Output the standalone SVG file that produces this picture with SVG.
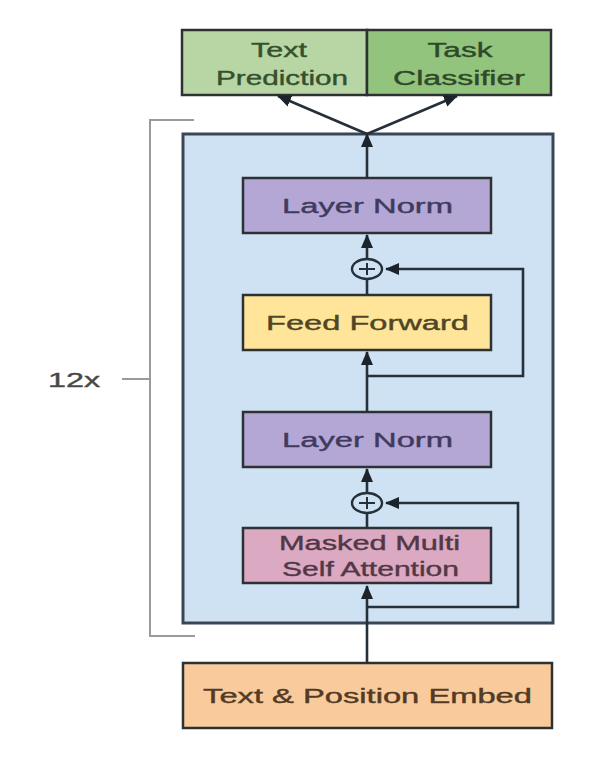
<svg xmlns="http://www.w3.org/2000/svg" width="592" height="766" viewBox="0 0 592 766">
<style>
  .box { stroke: #2e3133; stroke-width: 2.5; }
  .lbl { font-family: "Liberation Sans", Arial, sans-serif; font-size: 21px; text-anchor: middle; stroke-width: 0.4; }
  .con { stroke: #26303a; stroke-width: 2.6; fill: none; }
  .brk { stroke: #9a9a9a; stroke-width: 2; fill: none; }
</style>
<defs>
  <marker id="ah" markerUnits="userSpaceOnUse" markerWidth="14" markerHeight="14" viewBox="0 0 14 12" refX="13" refY="6" orient="auto">
    <path d="M0,0 L14,6 L0,12 Z" fill="#1c232a"/>
  </marker>
</defs>
<rect width="592" height="766" fill="#ffffff"/>

<g id="bracket">
  <polyline class="brk" points="194,120 150,120 150,636 195,636"/>
  <line class="brk" x1="122" y1="379" x2="150" y2="379" stroke="#666"/>
  <text transform="translate(74,387) scale(1.5,1)" class="lbl" fill="#484848" stroke="#484848" textLength="34.7" lengthAdjust="spacingAndGlyphs">12x</text>
</g>

<g id="block">
  <rect x="183" y="134" width="370" height="489" fill="#cfe2f3" stroke="#3a4654" stroke-width="3"/>
</g>

<g id="text-prediction">
  <rect class="box" x="182" y="30" width="185" height="65" fill="#b7d6a4" stroke="#34452c"/>
  <text transform="translate(279,57) scale(1.5,1)" class="lbl" fill="#34502c" stroke="#34502c" textLength="37.3" lengthAdjust="spacingAndGlyphs">Text</text>
  <text transform="translate(282,85) scale(1.5,1)" class="lbl" fill="#34502c" stroke="#34502c" textLength="88" lengthAdjust="spacingAndGlyphs">Prediction</text>
</g>

<g id="task-classifier">
  <rect class="box" x="367" y="30" width="184" height="65" fill="#93c47d" stroke="#2c3e26"/>
  <text transform="translate(460,57) scale(1.5,1)" class="lbl" fill="#2e4a28" stroke="#2e4a28" textLength="43.3" lengthAdjust="spacingAndGlyphs">Task</text>
  <text transform="translate(459,85) scale(1.5,1)" class="lbl" fill="#2e4a28" stroke="#2e4a28" textLength="88" lengthAdjust="spacingAndGlyphs">Classifier</text>
</g>

<g id="layer-norm-1">
  <rect class="box" x="243" y="178" width="248" height="55" fill="#b4a7d6"/>
  <text transform="translate(367.5,213) scale(1.5,1)" class="lbl" fill="#403a5e" stroke="#403a5e" textLength="114" lengthAdjust="spacingAndGlyphs">Layer Norm</text>
</g>

<g id="add-1">
  <ellipse cx="367" cy="269" rx="15" ry="10" fill="#cfe2f3" stroke="#26303a" stroke-width="2.4"/>
  <line x1="359" y1="269" x2="375" y2="269" stroke="#26303a" stroke-width="2"/>
  <line x1="367" y1="263" x2="367" y2="275" stroke="#26303a" stroke-width="2"/>
</g>

<g id="feed-forward">
  <rect class="box" x="243" y="295" width="248" height="55" fill="#ffe599"/>
  <text transform="translate(367.5,330) scale(1.5,1)" class="lbl" fill="#504524" stroke="#504524" textLength="135.3" lengthAdjust="spacingAndGlyphs">Feed Forward</text>
</g>

<g id="layer-norm-2">
  <rect class="box" x="243" y="412" width="248" height="55" fill="#b4a7d6"/>
  <text transform="translate(367.5,447) scale(1.5,1)" class="lbl" fill="#403a5e" stroke="#403a5e" textLength="114" lengthAdjust="spacingAndGlyphs">Layer Norm</text>
</g>

<g id="add-2">
  <ellipse cx="367" cy="503" rx="15" ry="10" fill="#cfe2f3" stroke="#26303a" stroke-width="2.4"/>
  <line x1="359" y1="503" x2="375" y2="503" stroke="#26303a" stroke-width="2"/>
  <line x1="367" y1="497" x2="367" y2="509" stroke="#26303a" stroke-width="2"/>
</g>

<g id="masked-attention">
  <rect class="box" x="243" y="528" width="248" height="55" fill="#dba9c1"/>
  <text transform="translate(369.5,550) scale(1.5,1)" class="lbl" fill="#523846" stroke="#523846" textLength="120.7" lengthAdjust="spacingAndGlyphs">Masked Multi</text>
  <text transform="translate(370.5,576) scale(1.5,1)" class="lbl" fill="#523846" stroke="#523846" textLength="118" lengthAdjust="spacingAndGlyphs">Self Attention</text>
</g>

<g id="embed">
  <rect class="box" x="183" y="663" width="369" height="65" fill="#f9cb9c"/>
  <text transform="translate(367.5,703) scale(1.5,1)" class="lbl" fill="#523a24" stroke="#523a24" textLength="219.3" lengthAdjust="spacingAndGlyphs">Text &amp; Position Embed</text>
</g>

<g id="connectors">
  <line class="con" x1="367" y1="178" x2="367" y2="134" marker-end="url(#ah)"/>
  <line class="con" x1="367" y1="134" x2="278" y2="96" marker-end="url(#ah)"/>
  <line class="con" x1="367" y1="134" x2="457" y2="96" marker-end="url(#ah)"/>
  <line class="con" x1="367" y1="259" x2="367" y2="235" marker-end="url(#ah)"/>
  <line class="con" x1="367" y1="295" x2="367" y2="279"/>
  <polyline class="con" points="367,376 523,376 523,269 386,269" marker-end="url(#ah)"/>
  <line class="con" x1="367" y1="412" x2="367" y2="352" marker-end="url(#ah)"/>
  <line class="con" x1="367" y1="493" x2="367" y2="469" marker-end="url(#ah)"/>
  <line class="con" x1="367" y1="528" x2="367" y2="513"/>
  <polyline class="con" points="367,607 518,607 518,503 386,503" marker-end="url(#ah)"/>
  <line class="con" x1="367" y1="663" x2="367" y2="586" marker-end="url(#ah)"/>
</g>
</svg>
